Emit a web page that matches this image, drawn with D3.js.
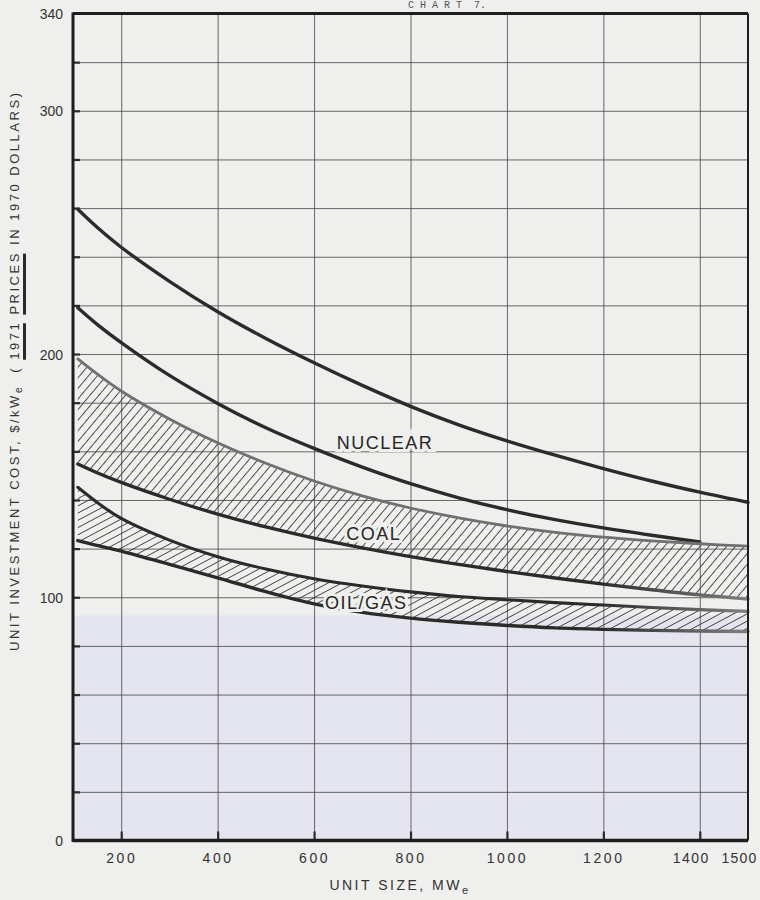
<!DOCTYPE html>
<html><head><meta charset="utf-8">
<script src="https://cdn.jsdelivr.net/npm/d3@7"></script>
<style>
html,body{margin:0;padding:0;background:#efefed;}
svg{display:block;}
</style></head><body>
<svg id="chart" width="760" height="900"></svg>
<script>
// ---- data ----
const unitSizes    = [110, 150, 200, 300, 400, 500, 600, 700, 800, 900, 1000, 1100, 1200, 1300, 1400, 1500];
const nuclearUpper = [259.5, 252.1, 243.9, 229.9, 217.4, 206.4, 196.4, 187.1, 178.5, 170.9, 164.3, 158.4, 152.9, 147.8, 143.2, 139];
const nuclearLower = [219, 212.2, 204.7, 191.2, 179.7, 169.7, 161.2, 153.5, 146.7, 140.9, 136, 131.9, 128.5, 125.5, 122.7, null];
const coalUpper    = [198, 191.8, 184.8, 173.3, 163.5, 155.1, 147.8, 141.7, 136.7, 132.6, 129.3, 126.7, 124.7, 123.2, 122, 121];
const coalLower    = [154.8, 151.2, 147.2, 140.3, 134.2, 128.9, 124.3, 120.3, 116.7, 113.5, 110.6, 107.9, 105.4, 103.1, 101, 99.3];
const oilGasUpper  = [145.2, 139, 132.4, 123.5, 116.7, 111.6, 107.6, 104.6, 102.2, 100.3, 99, 97.8, 96.8, 95.8, 94.9, 94.2];
const oilGasLower  = [123.3, 121.3, 119, 113.5, 108, 102.3, 97.3, 93.8, 91.4, 89.7, 88.4, 87.4, 86.8, 86.4, 86.1, 85.9];

const xTickValues = [200, 400, 600, 800, 1000, 1200, 1400, 1500];
const xTickLabels = ["200", "400", "600", "800", "1000", "1200", "1400", "1500"];
const xGridValues = [200, 400, 600, 800, 1000, 1200, 1400];
const yTickValues = [0, 100, 200, 300, 340];
const yTickLabels = ["0", "100", "200", "300", "340"];
const yGridValues = [20, 40, 60, 80, 100, 120, 140, 160, 180, 200, 220, 240, 260, 280, 300, 320];
const bandNames   = ["NUCLEAR", "COAL", "OIL/GAS"];

// ---- layout ----
const W = 760, H = 900;
const X0 = 73, X1 = 748, Y0 = 840.5, Y1 = 13.5;
const BG = "#efefed";
const INK = "#2b2b2b";
const x = d3.scaleLinear().domain([100, 1500]).range([X0, X1]);
const y = d3.scaleLinear().domain([0, 340]).range([Y0, Y1]);

const svg = d3.select("#chart");
svg.append("rect").attr("width", W).attr("height", H).attr("fill", BG);
// scan tint in lower part of the plot
svg.append("rect").attr("x", X0).attr("y", y(92.5)).attr("width", X1 - X0)
  .attr("height", Y0 - y(92.5)).attr("fill", "#e5e5ef");

const defs = svg.append("defs");
function hatch(id, angle, gap) {
  const p = defs.append("pattern").attr("id", id).attr("patternUnits", "userSpaceOnUse")
    .attr("width", 20).attr("height", gap).attr("patternTransform", `rotate(${-angle})`);
  p.append("line").attr("x1", 0).attr("x2", 20).attr("y1", gap / 2).attr("y2", gap / 2)
    .attr("stroke", "#3a3a3a").attr("stroke-width", 0.9);
}
hatch("coalHatch", 50, 6.8);
hatch("oilHatch", 28, 6.4);
const fade = defs.append("linearGradient").attr("id", "fade").attr("gradientUnits", "userSpaceOnUse")
  .attr("x1", 600).attr("x2", 748).attr("y1", 0).attr("y2", 0);
fade.append("stop").attr("offset", 0).attr("stop-color", INK);
fade.append("stop").attr("offset", 1).attr("stop-color", "#808080");

// ---- grid ----
const grid = svg.append("g").attr("class", "grid");
grid.append("g").attr("transform", `translate(${X0},0)`)
  .call(d3.axisLeft(y).tickValues(yGridValues).tickSize(-(X1 - X0)).tickFormat(""))
  .call(g => g.select(".domain").remove());
grid.append("g").attr("transform", `translate(0,${Y0})`)
  .call(d3.axisBottom(x).tickValues(xGridValues).tickSize(-(Y0 - Y1)).tickFormat(""))
  .call(g => g.select(".domain").remove());
grid.selectAll("line").attr("stroke", "#454545").attr("stroke-width", 0.9).attr("opacity", 0.9);

// inner tick marks
const marks = svg.append("g");
marks.append("g").attr("transform", `translate(${X0},0)`)
  .call(d3.axisRight(y).tickValues(yGridValues).tickSize(7).tickFormat(""))
  .call(g => g.select(".domain").remove());
marks.append("g").attr("transform", `translate(0,${Y0})`)
  .call(d3.axisTop(x).tickValues(xGridValues).tickSize(9).tickFormat(""))
  .call(g => g.select(".domain").remove());
marks.selectAll("line").attr("stroke", INK).attr("stroke-width", 2.2);

// ---- bands ----
const rows = unitSizes.map((u, i) => ({
  u, nu: nuclearUpper[i], nl: nuclearLower[i], cu: coalUpper[i], cl: coalLower[i],
  ou: oilGasUpper[i], ol: oilGasLower[i]
}));
const CURVE = d3.curveCatmullRom.alpha(0.5);
const area = (top, bot) => d3.area().x(d => x(d.u)).y0(d => y(d[bot])).y1(d => y(d[top])).curve(CURVE);
svg.append("path").datum(rows).attr("d", area("cu", "cl")).attr("fill", "url(#coalHatch)");
svg.append("path").datum(rows).attr("d", area("ou", "ol")).attr("fill", "url(#oilHatch)");

const line = key => d3.line().x(d => x(d.u)).y(d => y(d[key])).curve(CURVE);
const curves = [
  {key: "nu", stroke: INK, w: 3.4},
  {key: "nl", stroke: INK, w: 3.4},
  {key: "cu", stroke: "#707070", w: 2.8},
  {key: "cl", stroke: "url(#fade)", w: 3.4},
  {key: "ou", stroke: "url(#fade)", w: 3.1},
  {key: "ol", stroke: "url(#fade)", w: 3.4}
];
svg.append("g").selectAll("path").data(curves).join("path")
  .attr("d", c => line(c.key)(rows.filter(d => d[c.key] != null)))
  .attr("fill", "none").attr("stroke", c => c.stroke).attr("stroke-width", c => c.w)
  .attr("stroke-linecap", "round");

// ---- frame ----
const frame = svg.append("g").attr("fill", "none").attr("stroke", "#1e1e1e");
frame.append("line").attr("x1", X0).attr("x2", X0).attr("y1", Y1 - 1).attr("y2", Y0 + 1.5).attr("stroke-width", 3);
frame.append("line").attr("x1", X0).attr("x2", X1).attr("y1", Y1).attr("y2", Y1).attr("stroke-width", 3);
frame.append("line").attr("x1", X0).attr("x2", X1).attr("y1", Y0).attr("y2", Y0).attr("stroke-width", 3.5);
frame.append("line").attr("x1", X1).attr("x2", X1).attr("y1", Y1).attr("y2", Y0).attr("stroke-width", 2);

// ---- band labels ----
const FONT = "Liberation Sans, Arial, sans-serif";
const labelPos = [[747, 160.8], [724, 123.5], [708, 95.3]];
svg.append("g").selectAll("text").data(bandNames).join("text")
  .attr("x", (d, i) => x(labelPos[i][0])).attr("y", (d, i) => y(labelPos[i][1]))
  .attr("text-anchor", "middle").attr("font-family", FONT).attr("font-size", 18)
  .attr("letter-spacing", 1.5).attr("fill", "#262626")
  .attr("stroke", BG).attr("stroke-width", 6).attr("paint-order", "stroke")
  .text(d => d);

// ---- axis tick labels ----
const yAx = svg.append("g").attr("transform", `translate(63,0)`)
  .call(d3.axisLeft(y).tickValues(yTickValues).tickSize(0).tickPadding(0)
    .tickFormat((d, i) => yTickLabels[i]));
yAx.select(".domain").remove();
yAx.selectAll("text").attr("font-family", FONT).attr("font-size", 14).attr("fill", "#333")
  .attr("dy", "0.36em");

const xAx = svg.append("g").attr("transform", `translate(0,852)`)
  .call(d3.axisBottom(x).tickValues(xTickValues).tickSize(0).tickPadding(0)
    .tickFormat((d, i) => xTickLabels[i]));
xAx.select(".domain").remove();
xAx.selectAll("text").attr("font-family", FONT).attr("font-size", 14).attr("fill", "#333")
  .attr("letter-spacing", 2.6).attr("dy", "0.75em");
xAx.selectAll(".tick").filter(d => d === 1400).select("text")
  .attr("dx", -9).attr("letter-spacing", 1.5);
xAx.selectAll(".tick").filter(d => d === 1500).select("text")
  .attr("text-anchor", "start").attr("dx", -27).attr("letter-spacing", 1.2);

// ---- axis titles ----
const xt = svg.append("text").attr("x", 400).attr("y", 890).attr("text-anchor", "middle")
  .attr("font-family", FONT).attr("font-size", 14).attr("letter-spacing", 2.5).attr("fill", "#333");
xt.append("tspan").text("UNIT SIZE, MW");
xt.append("tspan").attr("dy", 4).attr("font-size", 11).text("e");

const s1 = "UNIT INVESTMENT COST, $/kW", s2 = "e", s3 = "  ( 1971 PRICES IN 1970 DOLLARS)";
const yg = svg.append("g").attr("transform", "translate(19,372) rotate(-90)");
const yt = yg.append("text").attr("text-anchor", "middle").attr("font-family", FONT)
  .attr("font-size", 13).attr("fill", "#333").style("white-space", "pre")
  .attr("textLength", 558).attr("lengthAdjust", "spacing");
yt.append("tspan").text(s1);
yt.append("tspan").attr("dy", 3).attr("font-size", 10).text(s2);
yt.append("tspan").attr("dy", -3).text(s3);
const full = s1 + s2 + s3;
[["1971", 4], ["PRICES", 6]].forEach(([w, n]) => {
  try {
    const i0 = full.indexOf(w), i1 = i0 + n - 1;
    const a = yt.node().getExtentOfChar(i0), b = yt.node().getExtentOfChar(i1);
    yg.append("rect").attr("x", a.x).attr("y", 4).attr("width", b.x + b.width - a.x).attr("height", 3)
      .attr("fill", "#2a2a2a");
  } catch (e) {}
});

// ---- title (at top edge of the sheet) ----
svg.append("text").attr("x", 408).attr("y", 8).attr("font-family", "Liberation Mono, monospace")
  .attr("font-size", 10).attr("fill", "#555").style("white-space", "pre").text("C H A R T  7.");
</script>
</body></html>
